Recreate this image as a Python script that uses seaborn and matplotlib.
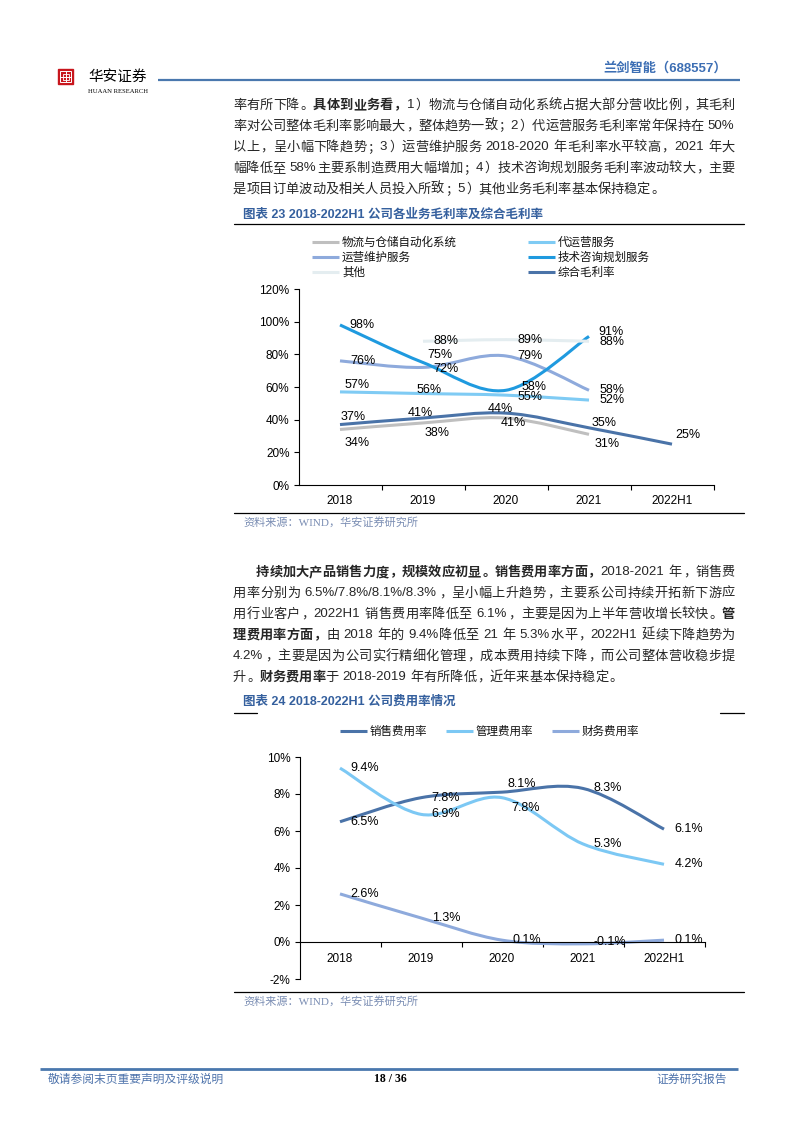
import numpy as np
import pandas as pd
import matplotlib
matplotlib.use('Agg')
import matplotlib.pyplot as plt
import seaborn as sns
from matplotlib.path import Path
from matplotlib.patches import PathPatch, Rectangle

# ---- data ----
years = ['2018', '2019', '2020', '2021', '2022H1']

# 图表23 各业务毛利率 (%)
gm_logistics = [34, 38, 41, 31, np.nan]
gm_agent = [57, 56, 55, 52, np.nan]
gm_maint = [76, 72, 79, 58, np.nan]
gm_consult = [98, 75, 58, 91, np.nan]
gm_other = [np.nan, 88, 89, 88, np.nan]
gm_total = [37, 41, 44, 35, 25]
gm_names = ['物流与仓储自动化系统', '代运营服务', '运营维护服务', '技术咨询规划服务', '其他', '综合毛利率']

# 图表24 费用率 (%)
fee_sales = [6.5, 7.8, 8.1, 8.3, 6.1]
fee_admin = [9.4, 6.9, 7.8, 5.3, 4.2]
fee_fin = [2.6, 1.3, 0.1, -0.1, 0.1]
fee_names = ['销售费用率', '管理费用率', '财务费用率']

gm = pd.DataFrame(dict(zip(gm_names, [gm_logistics, gm_agent, gm_maint, gm_consult, gm_other, gm_total])), index=years)
fee = pd.DataFrame(dict(zip(fee_names, [fee_sales, fee_admin, fee_fin])), index=years)

# ---- style ----
gm_colors = ['#BFBFBF', '#7FCBF4', '#8EAADC', '#1F9ADF', '#E4EDF0', '#4A73A8']
fee_colors = ['#4A73A8', '#7CC8F4', '#8EAADC']
# label offsets in pixels (dx, dy down)
gm_offsets = {
    '物流与仓储自动化系统': [(17, 14), (14, 10), (7, 5), (18, 10), None],
    '代运营服务': [(17, -7), (6, -4), (24, 2), (23, 0), None],
    '运营维护服务': [(23, 0), (23, 2), (24, 0), (23, 0), None],
    '技术咨询规划服务': [(22, 0), (17, -8), (28, -3), (22, -4), None],
    '其他': [None, (23, 0), (24, 0), (23, 1), None],
    '综合毛利率': [(13, -8), (-3, -5), (-6, -4), (15, -5), (16, -9)],
}
fee_offsets = {
    '销售费用率': [(25, 0), (25, 0), (20, -8), (25, 0), (25, 0)],
    '管理费用率': [(25, 0), (25, 0), (24, 10), (25, 0), (25, 0)],
    '财务费用率': [(25, 0), (25, 0), (25, 0), (27, -2), (25, 0)],
}

BLUE = '#4A78AE'
TITLE_BLUE = '#35609E'
SRC = '#7A8DB3'
CJK = 'Noto Sans CJK SC'
LAT = 'Liberation Sans'

sns.set_theme(style='ticks', rc={'axes.edgecolor': 'black', 'axes.linewidth': 0.8,
                                 'xtick.color': 'black', 'ytick.color': 'black'})
plt.rcParams['font.family'] = [LAT, CJK, 'DejaVu Sans']

W, H = 793, 1122
fig = plt.figure(figsize=(W / 100, H / 100), dpi=100)
fig.patch.set_facecolor('white')


def rect(l, t, r, b):
    return [l / W, 1 - b / H, (r - l) / W, (b - t) / H]


page = fig.add_axes([0, 0, 1, 1], zorder=0)
page.set_xlim(0, W)
page.set_ylim(H, 0)
page.axis('off')
renderer = fig.canvas.get_renderer()


def smooth_path(xs, ys):
    # Catmull-Rom style bezier, like Excel's smoothed lines
    pts = np.column_stack([xs, ys]).astype(float)
    n = len(pts)
    verts = [pts[0]]
    codes = [Path.MOVETO]
    for i in range(n - 1):
        p0 = pts[max(i - 1, 0)]
        p1 = pts[i]
        p2 = pts[i + 1]
        p3 = pts[min(i + 2, n - 1)]
        verts += [p1 + (p2 - p0) / 6, p2 - (p3 - p1) / 6, p2]
        codes += [Path.CURVE4] * 3
    return Path(verts, codes)


def draw_series(ax, vals, color, offsets, fmt):
    vals = np.asarray(vals, dtype=float)
    x = np.arange(len(vals))
    m = ~np.isnan(vals)
    ax.add_patch(PathPatch(smooth_path(x[m], vals[m]), fill=False, ec=color, lw=2.2,
                           capstyle='butt', joinstyle='round'))
    for i in x[m]:
        dx, dy = offsets[i]
        ax.annotate(fmt.format(vals[i]), (i, vals[i]), xytext=(dx, -dy), textcoords='offset pixels',
                    ha='center', va='center', fontsize=9, family=LAT, color='black')


def style_axes(ax, yt, ylab, xpad=7):
    ax.set_facecolor('none')
    ax.set_xlim(-0.5, 4.5)
    ax.set_xticks(range(5))
    ax.set_xticklabels(years, fontsize=8.5, family=LAT)
    ax.set_xticks(np.arange(0.5, 5, 1), minor=True)
    ax.set_yticks(yt)
    ax.set_yticklabels(ylab, fontsize=8.5, family=LAT)
    ax.tick_params(axis='x', which='major', length=0, pad=xpad)
    ax.tick_params(axis='x', which='minor', length=3.5, width=0.8, direction='out')
    ax.tick_params(axis='y', length=3.5, width=0.8, pad=3, direction='out')
    sns.despine(ax=ax)
    ax.grid(False)


# ---- chart 23 ----
ax1 = fig.add_axes(rect(298.5, 289, 713.5, 485), zorder=2)
ax1.set_ylim(0, 120)
style_axes(ax1, range(0, 121, 20), [f'{v}%' for v in range(0, 121, 20)])
for name, c in zip(gm_names, gm_colors):
    draw_series(ax1, gm[name].values, c, gm_offsets[name], '{:.0f}%')

# ---- chart 24 ----
ax2 = fig.add_axes(rect(299.5, 757, 704.5, 979), zorder=2)
ax2.spines['bottom'].set_position(('data', 0))
ax2.set_ylim(-2, 10)
style_axes(ax2, range(-2, 11, 2), [f'{v}%' for v in range(-2, 11, 2)], xpad=8)
for name, c in zip(fee_names, fee_colors):
    draw_series(ax2, fee[name].values, c, fee_offsets[name], '{:.1f}%')

# ---- legends ----
def legend_item(x0, y, label, color):
    page.plot([x0, x0 + 27], [y, y], color=color, lw=2.2, solid_capstyle='butt')
    page.text(x0 + 30, y, label, fontsize=8.3, family=CJK, va='center', ha='left', color='#111111')


for k, (name, c) in enumerate(zip(gm_names, gm_colors)):
    row, col = divmod(k, 2)
    legend_item([312, 528][col], 242 + 15 * row, name, c)
for k, (name, c) in enumerate(zip(fee_names, fee_colors)):
    legend_item([340, 446, 552][k], 731, name, c)

# ---- page furniture ----
page.add_patch(Rectangle((58, 69), 15, 15, color='#C8161D'))
page.add_patch(Rectangle((60, 71), 11, 11, fill=False, ec='white', lw=0.7))
page.plot([65.5, 65.5], [71, 82], color='white', lw=0.7)
page.plot([60, 71], [76.5, 76.5], color='white', lw=0.7)
page.add_patch(Rectangle((62.5, 73.5), 6, 6, fill=False, ec='white', lw=0.6))
page.text(88, 77, '华安证券', fontsize=10.5, family=CJK, va='center', ha='left', color='black')
page.text(88, 91, 'HUAAN RESEARCH', fontsize=4.8, family='Liberation Serif', va='center', ha='left', color='black')
page.plot([158, 740], [80, 80], color=BLUE, lw=1.6, solid_capstyle='butt')
page.text(727, 68, '兰剑智能（688557）', fontsize=9.5, fontweight='bold', family=[LAT, CJK], va='center', ha='right', color='#3C6EB4')

page.plot([40, 738], [1069, 1069], color=BLUE, lw=2, solid_capstyle='butt')
page.text(48, 1079, '敬请参阅末页重要声明及评级说明', fontsize=8.5, family=CJK, va='center', ha='left', color='#4F74AC')
page.text(390, 1079, '18 / 36', fontsize=8.5, fontweight='bold', family='Liberation Serif', va='center', ha='center', color='black')
page.text(727, 1079, '证券研究报告', fontsize=8.5, family=CJK, va='center', ha='right', color='#4F74AC')

# chart titles and rules
page.text(243, 215, '图表 23 2018-2022H1 公司各业务毛利率及综合毛利率', fontsize=9, fontweight='bold',
          family=[LAT, CJK], va='center', ha='left', color=TITLE_BLUE)
page.plot([234, 744], [224, 224], color='black', lw=0.9)
page.plot([234, 744], [513, 513], color='black', lw=0.9)
page.text(243, 522, '资料来源：WIND，华安证券研究所', fontsize=8, family=['Liberation Serif', CJK],
          va='center', ha='left', color=SRC)

page.text(243, 702, '图表 24 2018-2022H1 公司费用率情况', fontsize=9, fontweight='bold',
          family=[LAT, CJK], va='center', ha='left', color=TITLE_BLUE)
page.plot([234, 257], [712.5, 712.5], color='black', lw=0.9)
page.plot([720, 744], [712.5, 712.5], color='black', lw=0.9)
page.plot([234, 744], [992, 992], color='black', lw=0.9)
page.text(243, 1001, '资料来源：WIND，华安证券研究所', fontsize=8, family=['Liberation Serif', CJK],
          va='center', ha='left', color=SRC)

# ---- body text (justified) ----
SIZE = 9.5
EM = SIZE * 100 / 72


def tokens_of(segments):
    toks = []
    for text, bold in segments:
        buf = ''
        for ch in text:
            if ord(ch) < 128 and ch != ' ':
                buf += ch
                continue
            if buf:
                toks.append((buf, bold))
                buf = ''
            toks.append((ch, bold))
        if buf:
            toks.append((buf, bold))
    return toks


def text_line(y, segments, x0, x1=None):
    toks = tokens_of(segments)
    items = []
    for s, b in toks:
        w8 = 'bold' if b else 'normal'
        if s == ' ':
            items.append((None, 3.7, None))
        elif ord(s[0]) >= 128:
            if s in '，。；：、）':
                t = page.text(0, y, s, fontsize=SIZE, fontweight=w8, family=CJK, va='center', ha='left')
                items.append((t, EM, 'l'))
            elif s == '（':
                t = page.text(0, y, s, fontsize=SIZE, fontweight=w8, family=CJK, va='center', ha='right')
                items.append((t, EM, 'r'))
            else:
                t = page.text(0, y, s, fontsize=SIZE, fontweight=w8, family=CJK, va='center', ha='center')
                items.append((t, EM, 'c'))
        else:
            t = page.text(0, y, s, fontsize=SIZE, fontweight=w8, family=LAT, va='center', ha='left')
            w = t.get_window_extent(renderer=renderer).width
            items.append((t, w + 0.8, 'a'))
    gap = 0.0
    if x1 is not None and len(items) > 1:
        gap = (x1 - x0 - sum(w for _, w, _ in items)) / (len(items) - 1)
    x = x0
    for t, w, kind in items:
        if t is not None:
            if kind == 'c':
                t.set_x(x + w / 2)
            elif kind == 'r':
                t.set_x(x + w - 1)
            elif kind == 'l':
                t.set_x(x + 1)
            else:
                t.set_x(x)
        x += w + gap


p1 = [
    [('率有所下降。', False), ('具体到业务看，', True), ('1）物流与仓储自动化系统占据大部分营收比例，其毛利', False)],
    [('率对公司整体毛利率影响最大，整体趋势一致；2）代运营服务毛利率常年保持在 50%', False)],
    [('以上，呈小幅下降趋势；3）运营维护服务 2018-2020 年毛利率水平较高，2021 年大', False)],
    [('幅降低至 58%主要系制造费用大幅增加；4）技术咨询规划服务毛利率波动较大，主要', False)],
    [('是项目订单波动及相关人员投入所致；5）其他业务毛利率基本保持稳定。', False)],
]
for i, seg in enumerate(p1):
    text_line(105 + 21.1 * i, seg, 233, 735 if i < len(p1) - 1 else None)

p2 = [
    [('持续加大产品销售力度，规模效应初显。销售费用率方面，', True), ('2018-2021 年，销售费', False)],
    [('用率分别为 6.5%/7.8%/8.1%/8.3%，呈小幅上升趋势，主要系公司持续开拓新下游应', False)],
    [('用行业客户，2022H1 销售费用率降低至 6.1%，主要是因为上半年营收增长较快。', False), ('管', True)],
    [('理费用率方面，', True), ('由 2018 年的 9.4%降低至 21 年 5.3%水平，2022H1 延续下降趋势为', False)],
    [('4.2%，主要是因为公司实行精细化管理，成本费用持续下降，而公司整体营收稳步提', False)],
    [('升。', False), ('财务费用率', True), ('于 2018-2019 年有所降低，近年来基本保持稳定。', False)],
]
for i, seg in enumerate(p2):
    text_line(572 + 21 * i, seg, 256 if i == 0 else 233, 735 if i < len(p2) - 1 else None)

fig.savefig('out.png', dpi=100, facecolor='white')
